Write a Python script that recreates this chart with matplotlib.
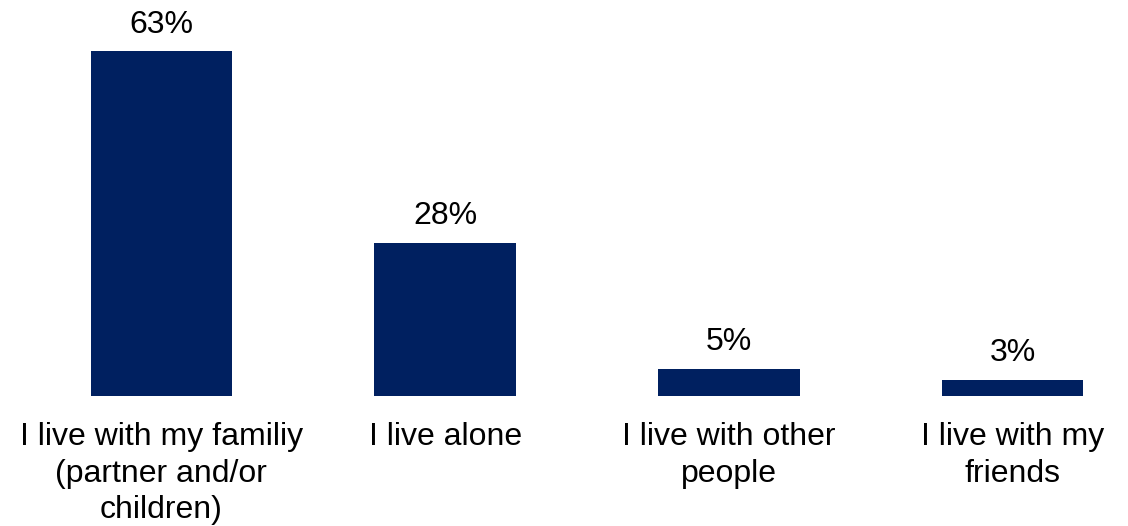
import matplotlib
matplotlib.use('Agg')
import matplotlib.pyplot as plt

categories = ['I live with my familiy\n(partner and/or\nchildren)', 'I live alone',
              'I live with other\npeople', 'I live with my\nfriends']
values = [63, 28, 5, 3]

plt.rcParams['font.family'] = ['Liberation Sans', 'DejaVu Sans']

fig = plt.figure(figsize=(11.28, 5.26), dpi=100)
ax = fig.add_axes([0, 0.247, 1, 0.753])

xs = range(len(values))
ax.bar(xs, values, width=0.5, color='#002060')
for x, v in zip(xs, values):
    ax.text(x, v + 3.45, '%d%%' % v, ha='center', va='baseline', fontsize=23, color='black')

ax.set_xlim(-0.569, 3.407)
ax.set_ylim(0, 72.4)
ax.set_xticks(list(xs))
ax.set_xticklabels(categories, fontsize=23, linespacing=1.28)
ax.tick_params(axis='x', length=0, pad=19)
ax.set_yticks([])
for s in ax.spines.values():
    s.set_visible(False)

fig.savefig('out.png', dpi=100)
